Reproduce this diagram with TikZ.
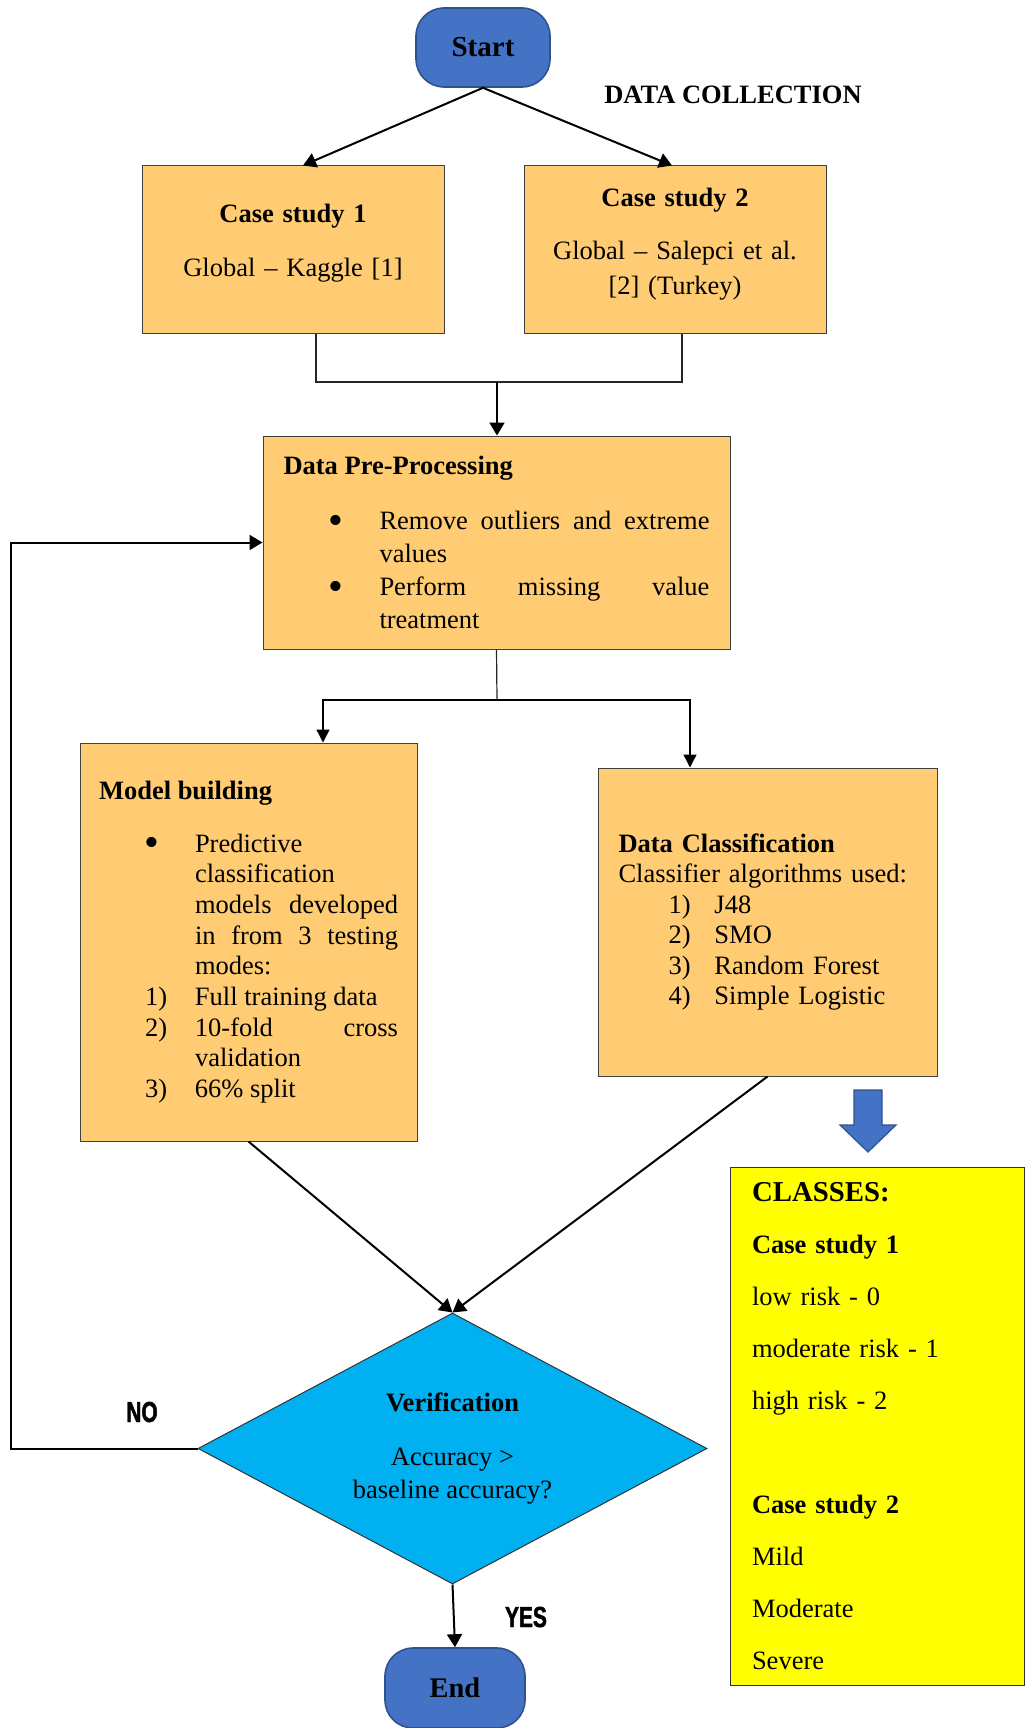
\documentclass[tikz,border=0pt]{standalone}
\usepackage{fontspec}
\usepackage{graphicx}
\setmainfont{Liberation Serif}
\newfontfamily\answerfont[FakeStretch=0.72, FakeBold=1.6]{Liberation Sans}
\usetikzlibrary{
arrows.meta,
calc,
shapes.geometric,
positioning
}
\definecolor{startblue}{HTML}{4472C4}
\definecolor{startborder}{HTML}{2F528F}
\definecolor{boxorange}{HTML}{FFCC73}
\definecolor{decblue}{HTML}{00B0F0}
\definecolor{classyellow}{HTML}{FFFF00}
\hyphenpenalty=10000
\exhyphenpenalty=10000
\tolerance=10000
\hbadness=10000
\newcommand{\nodefont}[1]{\fontsize{13.25pt}{#1}\selectfont}
\newcommand{\bigbullet}{\raisebox{-0.17em}{\scalebox{1.6}{\textbullet}}}
\newcommand{\bulletitem}[1]{\par\hangindent=48pt\hangafter=0\noindent\llap{\bigbullet\hspace{18pt}}#1\par}
\newcommand{\numitem}[3][25pt]{\par\hangindent=48pt\hangafter=0\noindent\llap{\makebox[#1][l]{#2}}#3\par}

\begin{document}
\begin{tikzpicture}
[x=0.5pt, y=-0.5pt,
terminal/.style ={rectangle, draw=startborder, line width=0.8pt, fill=startblue, rounded corners=14pt, minimum width=67pt, minimum height=39.5pt, font=\fontsize{14.5pt}{17pt}\selectfont\bfseries},
block_case/.style ={rectangle, draw=black!75, line width=0.5pt, fill=boxorange, align=center, text width=140pt, minimum width=151pt, minimum height=83.5pt, inner sep=0pt, font=\nodefont{17.5pt}},
block_process/.style ={rectangle, draw=black!75, line width=0.5pt, fill=boxorange, inner sep=0pt, font=\nodefont{16.5pt}},
decision/.style={diamond, draw=black!80, line width=0.5pt, fill=decblue, aspect=1.88, inner sep=0pt, minimum width=254.5pt, minimum height=135.5pt, align=center, font=\nodefont{16.25pt}},
answer/.style={font=\answerfont\bfseries\fontsize{14.5pt}{16pt}\selectfont},
line_main/.style ={draw, line width=1pt, -{Triangle[length=6.5pt,width=7.5pt]}},
line_split/.style ={draw, line width=0.7pt, -{Triangle[length=6.5pt,width=6.5pt]}},
line_thin/.style ={draw=black!85, line width=0.6pt}
]
\useasboundingbox (0,0) rectangle (1025,1728);

%%% Datenerhebung %%%
\node [terminal] (start) at (483,47.5) {Start};
\node [font=\nodefont{16pt}\bfseries] (collect) at (733,95) {DATA COLLECTION};
\node [block_case] (cs1) at (293,249.5) {\textbf{Case study 1}\\[9.5pt]Global -- Kaggle [1]\rule[-9.5pt]{0pt}{9.5pt}};
\node [block_case] (cs2) at (675,249.5) {\textbf{Case study 2}\\[9pt]Global -- Salepci et al.\\{}[2] (Turkey)\rule[-8.5pt]{0pt}{8.5pt}};

%%% Verarbeitung %%%
\node [block_process, minimum width=233.5pt, minimum height=106.5pt, text width=213pt, align=justify] (dpp) at (496.5,542.5)
  {\textbf{Data Pre-Processing}\par\vspace{11pt}\bulletitem{Remove outliers and extreme values}\bulletitem{Perform missing value treatment}};
\node [block_process, minimum width=168.5pt, minimum height=199pt, text width=149.5pt, align=justify, font=\nodefont{15.35pt}] (mb) at (248.5,942)
  {\textbf{Model building}\par\vspace{11.15pt}\bulletitem{Predictive classification models developed in from 3 testing modes:}\numitem{1)}{Full training data}\numitem{2)}{10-fold cross validation}\numitem{3)}{66\% split}};
\node [block_process, minimum width=169.5pt, minimum height=154pt, text width=149pt, align=left, font=\nodefont{15.25pt}] (dc) at (767.5,922)
  {\textbf{Data Classification}\par Classifier algorithms used:\numitem[23pt]{1)}{J48}\numitem[23pt]{2)}{SMO}\numitem[23pt]{3)}{Random Forest}\numitem[23pt]{4)}{Simple Logistic}};
\node [block_process, fill=classyellow, draw=black!80, minimum width=147pt, minimum height=259pt, text width=125pt, align=left, font=\nodefont{26pt}] (classes) at (877,1426)
  {{\fontsize{14.4pt}{26pt}\selectfont\bfseries CLASSES:}\\\textbf{Case study 1}\\low risk - 0\\moderate risk - 1\\high risk - 2\\[26pt]\textbf{Case study 2}\\Mild\\Moderate\\Severe};

%%% Pruefung %%%
\node [decision] (dec) at (452.5,1448.5) {\textbf{Verification}\\[10.75pt]Accuracy >\\baseline accuracy?};
\node [answer] (no) at (142,1412) {NO};
\node [answer] (yes) at (526,1617) {YES};
\node [terminal, font=\fontsize{14.2pt}{17pt}\selectfont\bfseries, minimum width=70pt, minimum height=40pt] (end) at (455,1688) {End};

% Blockpfeil zu den Klassen
\filldraw [fill=startblue, draw=startborder, line width=0.6pt] (854,1090) -- (882,1090) -- (882,1125) -- (896,1125) -- (868,1152) -- (840,1125) -- (854,1125) -- cycle;

%%% Pfeile %%%
\coordinate (merge) at (497,382);
\coordinate (split) at (497,700);
\coordinate (back) at ($(dpp.west)+(-252,0)$);
\draw [line_main] (start.south) -- ($(cs1.north)+(10,0)$);
\draw [line_main] (start.south) -- ($(cs2.north)+(-3,0)$);
\draw [line_thin] ($(cs1.south)+(23,0)$) |- (merge) -| ($(cs2.south)+(7,0)$);
\draw [line_main] (merge) -- (merge |- dpp.north);
\draw [line_thin] (dpp.south) -- (split);
\draw [line_split] (split) -| ($(mb.north)+(74.5,0)$);
\draw [line_split] (split) -| ($(dc.north)+(-77.5,0)$);
\draw [line_main] (mb.south) -- (dec.north);
\draw [line_main] (dc.south) -- (dec.north);
\draw [line_main] (dec.west) -| (back) -- (dpp.west);
\draw [line_main] (dec.south) -- (end.north);

\end{tikzpicture}
\end{document}
